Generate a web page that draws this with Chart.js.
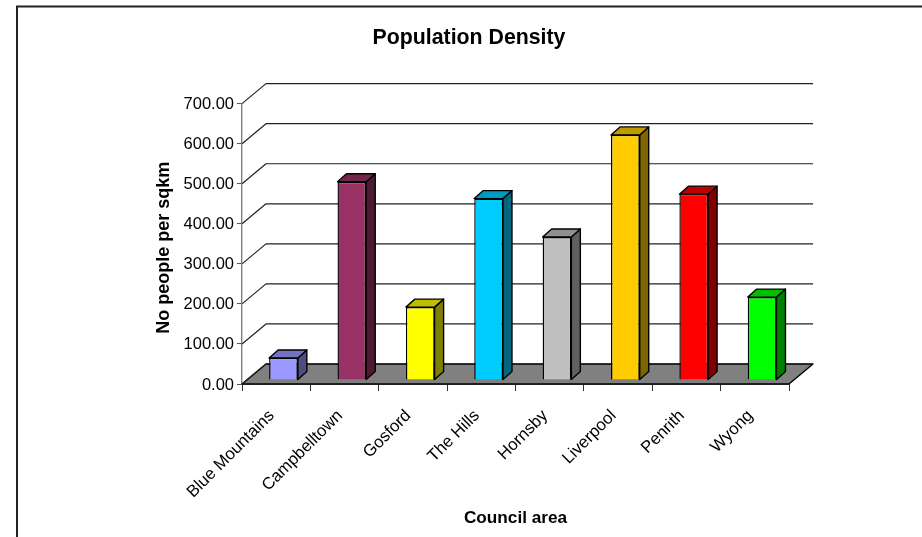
<!DOCTYPE html>
<html>
<head>
<meta charset="utf-8">
<style>
  html, body { margin: 0; padding: 0; background: #fff; }
  #wrap { width: 922px; height: 537px; }
</style>
<script src="https://cdn.jsdelivr.net/npm/chart.js@4"></script>
</head>
<body>
<div id="wrap"><canvas id="chart" width="922" height="537"></canvas></div>
<script>
const councils = ['Blue Mountains', 'Campbelltown', 'Gosford', 'The Hills', 'Hornsby', 'Liverpool', 'Penrith', 'Wyong'];
const density = [55, 495, 182, 453, 357, 612, 464, 207];
const frontColors = ['#9999FF', '#993366', '#FFFF00', '#00CCFF', '#C0C0C0', '#FFCC00', '#FF0000', '#00FF00'];
const topColors = ['#7373BF', '#73264D', '#BFBF00', '#0099BF', '#909090', '#BF9900', '#BF0000', '#00BF00'];
const sideColors = ['#4D4D80', '#4D1A33', '#808000', '#006680', '#606060', '#806600', '#800000', '#008000'];
const valueTicks = [0, 100, 200, 300, 400, 500, 600, 700];

// Depth of the box the plot stands in, and of each bar within it.
const WALL_DX = 24, WALL_DY = -20;
const BAR_SHIFT_X = 7.3, BAR_SHIFT_Y = -4;
const BAR_DX = 9, BAR_DY = -8;
const OUTLINE = 1.4;

function poly(ctx, pts, fill, stroke) {
  ctx.beginPath();
  pts.forEach((p, i) => i ? ctx.lineTo(p[0], p[1]) : ctx.moveTo(p[0], p[1]));
  ctx.closePath();
  if (fill) { ctx.fillStyle = fill; ctx.fill(); }
  if (stroke) { ctx.strokeStyle = stroke; ctx.lineWidth = OUTLINE; ctx.lineJoin = 'round'; ctx.stroke(); }
}

// Runs one of a scale's drawing steps with the canvas nudged by (dx, dy).
function nudge(scale, method, dx, dy) {
  const original = scale[method];
  scale[method] = function (...args) {
    this.ctx.save();
    this.ctx.translate(dx, dy);
    original.apply(this, args);
    this.ctx.restore();
  };
}

const frame = {
  id: 'frame',
  beforeDraw(chart) {
    const c = chart.ctx;
    c.save();
    c.fillStyle = '#fff';
    c.fillRect(0, 0, chart.width, chart.height);
    c.strokeStyle = '#222';
    c.lineWidth = 2;
    c.beginPath();
    c.moveTo(17, chart.height);
    c.lineTo(17, 6.5);
    c.lineTo(chart.width, 6.5);
    c.stroke();
    c.restore();
  }
};

const box3d = {
  id: 'box3d',
  beforeDatasetsDraw(chart) {
    const c = chart.ctx, y = chart.scales.y, a = chart.chartArea;
    const y0 = y.getPixelForValue(0);
    c.save();
    // floor
    poly(c, [[a.left, y0], [a.left + WALL_DX, y0 + WALL_DY], [a.right + WALL_DX, y0 + WALL_DY], [a.right, y0]], '#808080', '#000');
    // back wall rules and their return to the value axis
    valueTicks.forEach(v => {
      const p = y.getPixelForValue(v);
      c.strokeStyle = '#222';
      c.lineWidth = 1.2;
      c.beginPath();
      c.moveTo(a.left, p);
      c.lineTo(a.left + WALL_DX, p + WALL_DY);
      c.lineTo(a.right + WALL_DX, p + WALL_DY);
      c.stroke();
    });
    // side and top faces of each bar
    c.translate(BAR_SHIFT_X, BAR_SHIFT_Y);
    chart.getDatasetMeta(0).data.forEach((bar, i) => {
      const l = bar.x - bar.width / 2, r = bar.x + bar.width / 2;
      poly(c, [[r, bar.y], [r + BAR_DX, bar.y + BAR_DY], [r + BAR_DX, bar.base + BAR_DY], [r, bar.base]], sideColors[i], '#000');
      poly(c, [[l, bar.y], [l + BAR_DX, bar.y + BAR_DY], [r + BAR_DX, bar.y + BAR_DY], [r, bar.y]], topColors[i], '#000');
    });
    c.restore();
    c.save();
    c.translate(BAR_SHIFT_X, BAR_SHIFT_Y);
  },
  afterDatasetsDraw(chart) {
    chart.ctx.restore();
  }
};

const chart = new Chart(document.getElementById('chart'), {
  type: 'bar',
  data: {
    labels: councils,
    datasets: [{
      data: density,
      backgroundColor: frontColors,
      borderColor: '#000',
      borderWidth: OUTLINE,
      barPercentage: 0.42,
      categoryPercentage: 1
    }]
  },
  options: {
    responsive: false,
    animation: false,
    layout: { padding: { left: 149, right: 133, top: 0, bottom: 4 } },
    plugins: {
      legend: { display: false },
      tooltip: { enabled: false },
      title: {
        display: true,
        text: 'Population Density',
        color: '#000',
        font: { family: 'Liberation Sans', size: 21.3, weight: 'bold' },
        padding: { top: 25.2, bottom: 52.9 }
      }
    },
    scales: {
      x: {
        grid: { display: true, offset: true, drawOnChartArea: false, tickLength: 7, color: '#333' },
        border: { color: '#000', width: 1.4 },
        ticks: { color: '#000', font: { family: 'Liberation Sans', size: 16.8 }, minRotation: 45, maxRotation: 45, padding: 8, autoSkip: false },
        title: { display: true, text: 'Council area', color: '#000', font: { family: 'Liberation Sans', size: 17.2, weight: 'bold' } },
        afterFit(s) { s.height = 149; }
      },
      y: {
        min: 0, max: 700,
        grid: { display: true, drawOnChartArea: false, tickLength: 5, color: '#555' },
        border: { color: '#808080', width: 1.4 },
        ticks: { stepSize: 100, color: '#000', font: { family: 'Liberation Sans', size: 16.5 }, padding: 3, callback: v => v.toFixed(2) },
        title: { display: true, text: 'No people per sqkm', color: '#000', font: { family: 'Liberation Sans', size: 18, weight: 'bold' } },
        afterFit(s) { s.width = 93; }
      }
    }
  },
  plugins: [frame, box3d]
});

// Fine placement of the labels relative to the axes.
nudge(chart.scales.x, 'drawLabels', -4.5, 7);
nudge(chart.scales.y, 'drawLabels', 0, 1);
nudge(chart.scales.y, 'drawTitle', 0, 4);
chart.draw();
</script>
</body>
</html>
